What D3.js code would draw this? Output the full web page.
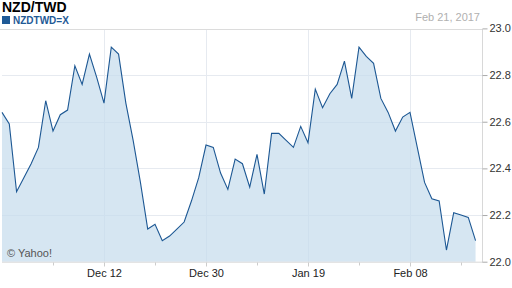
<!DOCTYPE html>
<html>
<head>
<meta charset="utf-8">
<script src="https://cdn.jsdelivr.net/npm/d3@7"></script>
<style>
  body { margin: 0; background: #fff; }
  svg { display: block; font-family: "Liberation Sans", Arial, sans-serif; }
</style>
</head>
<body>
<div id="chart"></div>
<script>
// one value per trading day, Nov 22 2016 .. Feb 21 2017
const rates = [
  22.64, 22.59, 22.30, 22.36, 22.42, 22.49, 22.69, 22.56, 22.63, 22.65,
  22.84, 22.76, 22.89, 22.79, 22.68, 22.92, 22.89, 22.68, 22.52, 22.34,
  22.14, 22.16, 22.09, 22.11, 22.14, 22.17, 22.26, 22.36, 22.50, 22.49,
  22.38, 22.31, 22.44, 22.42, 22.32, 22.46, 22.29, 22.55, 22.55, 22.52,
  22.49, 22.58, 22.51, 22.74, 22.66, 22.72, 22.76, 22.86, 22.70, 22.92,
  22.88, 22.85, 22.70, 22.64, 22.56, 22.62, 22.64, 22.49, 22.34, 22.27,
  22.26, 22.05, 22.21, 22.20, 22.19, 22.09
];
const majorTickIdx = [14, 28, 42, 56];
const majorTickLabels = ['Dec 12', 'Dec 30', 'Jan 19', 'Feb 08'];
const minorTickIdx = [7, 21, 35, 49, 63];
const yTicks = [22.0, 22.2, 22.4, 22.6, 22.8, 23.0];

const W = 512, H = 288;
const plotLeft = 2, plotRight = 482, plotTop = 28.4, plotBottom = 261.7;
const pxPerDay = 102 / 14;

const svg = d3.select('#chart').append('svg')
  .attr('width', W)
  .attr('height', H);

const x = d3.scaleLinear().domain([0, 1]).range([plotLeft, plotLeft + pxPerDay]);
const y = d3.scaleLinear().domain([22, 23]).range([plotBottom, plotTop]);

// header
svg.append('text')
  .attr('x', 2).attr('y', 12)
  .style('font-size', '14px').style('font-weight', 'bold').attr('fill', '#000')
  .text('NZD/TWD');
svg.append('rect')
  .attr('x', 2).attr('y', 16).attr('width', 8).attr('height', 8)
  .attr('fill', '#1f5a96');
svg.append('text')
  .attr('x', 13).attr('y', 24)
  .style('font-size', '10px').style('font-weight', 'bold').attr('fill', '#1f5a96')
  .text('NZDTWD=X');
svg.append('text')
  .attr('x', 480).attr('y', 21).attr('text-anchor', 'end')
  .style('font-size', '11px').attr('fill', '#b0b0b0')
  .text('Feb 21, 2017');
svg.append('line')
  .attr('x1', 0).attr('x2', plotRight).attr('y1', 29.5).attr('y2', 29.5)
  .attr('stroke', '#dcdcdc');

// grid
svg.append('g').selectAll('line')
  .data(yTicks.filter(d => d > 22 && d < 23))
  .enter().append('line')
  .attr('x1', plotLeft).attr('x2', plotRight)
  .attr('y1', d => Math.round(y(d)) + 0.5).attr('y2', d => Math.round(y(d)) + 0.5)
  .attr('stroke', '#e6eaf0');
svg.append('g').selectAll('line')
  .data(majorTickIdx)
  .enter().append('line')
  .attr('x1', d => Math.round(x(d)) + 0.5).attr('x2', d => Math.round(x(d)) + 0.5)
  .attr('y1', 30).attr('y2', plotBottom)
  .attr('stroke', '#e6eaf0');

// area + line
const area = d3.area()
  .x((d, i) => x(i))
  .y0(plotBottom)
  .y1(d => y(d));
const line = d3.line()
  .x((d, i) => x(i))
  .y(d => y(d));

svg.append('path')
  .datum(rates)
  .attr('d', area)
  .attr('fill', '#c4dbec')
  .attr('fill-opacity', 0.7);
svg.append('path')
  .datum(rates)
  .attr('d', line)
  .attr('fill', 'none')
  .attr('stroke', '#1c5793')
  .attr('stroke-width', 1.1);

// right axis
svg.append('line')
  .attr('x1', plotRight + 0.5).attr('x2', plotRight + 0.5).attr('y1', 29).attr('y2', plotBottom + 1)
  .attr('stroke', '#d8d8d8');
const yAxis = svg.append('g')
  .attr('transform', `translate(${plotRight + 0.5},0)`)
  .call(d3.axisRight(y).tickValues(yTicks).tickFormat(d3.format('.1f')).tickSize(5).tickPadding(2));
yAxis.select('.domain').remove();
yAxis.selectAll('line').attr('stroke', '#aaa');
yAxis.selectAll('text').attr('fill', '#333').style('font-size', '11px')
  .style('font-family', '"Liberation Sans", Arial, sans-serif');

// bottom axis
svg.append('line')
  .attr('x1', plotLeft).attr('x2', plotRight).attr('y1', plotBottom + 0.5).attr('y2', plotBottom + 0.5)
  .attr('stroke', '#d8d8d8');
const xAxis = svg.append('g')
  .attr('transform', `translate(0,${Math.round(plotBottom) + 0.5})`)
  .call(d3.axisBottom(x).tickValues(majorTickIdx)
    .tickFormat((d, i) => majorTickLabels[i]).tickSize(4).tickPadding(3));
xAxis.select('.domain').remove();
xAxis.selectAll('line').attr('stroke', '#ccc');
xAxis.selectAll('text').attr('fill', '#222').style('font-size', '11px')
  .style('font-family', '"Liberation Sans", Arial, sans-serif');
const xMinor = svg.append('g')
  .attr('transform', `translate(0,${Math.round(plotBottom) + 0.5})`)
  .call(d3.axisBottom(x).tickValues(minorTickIdx).tickFormat('').tickSize(3));
xMinor.select('.domain').remove();
xMinor.selectAll('line').attr('stroke', '#ccc');

svg.append('text')
  .attr('x', 7).attr('y', 257)
  .style('font-size', '11px').attr('fill', '#555')
  .text('© Yahoo!');
</script>
</body>
</html>
